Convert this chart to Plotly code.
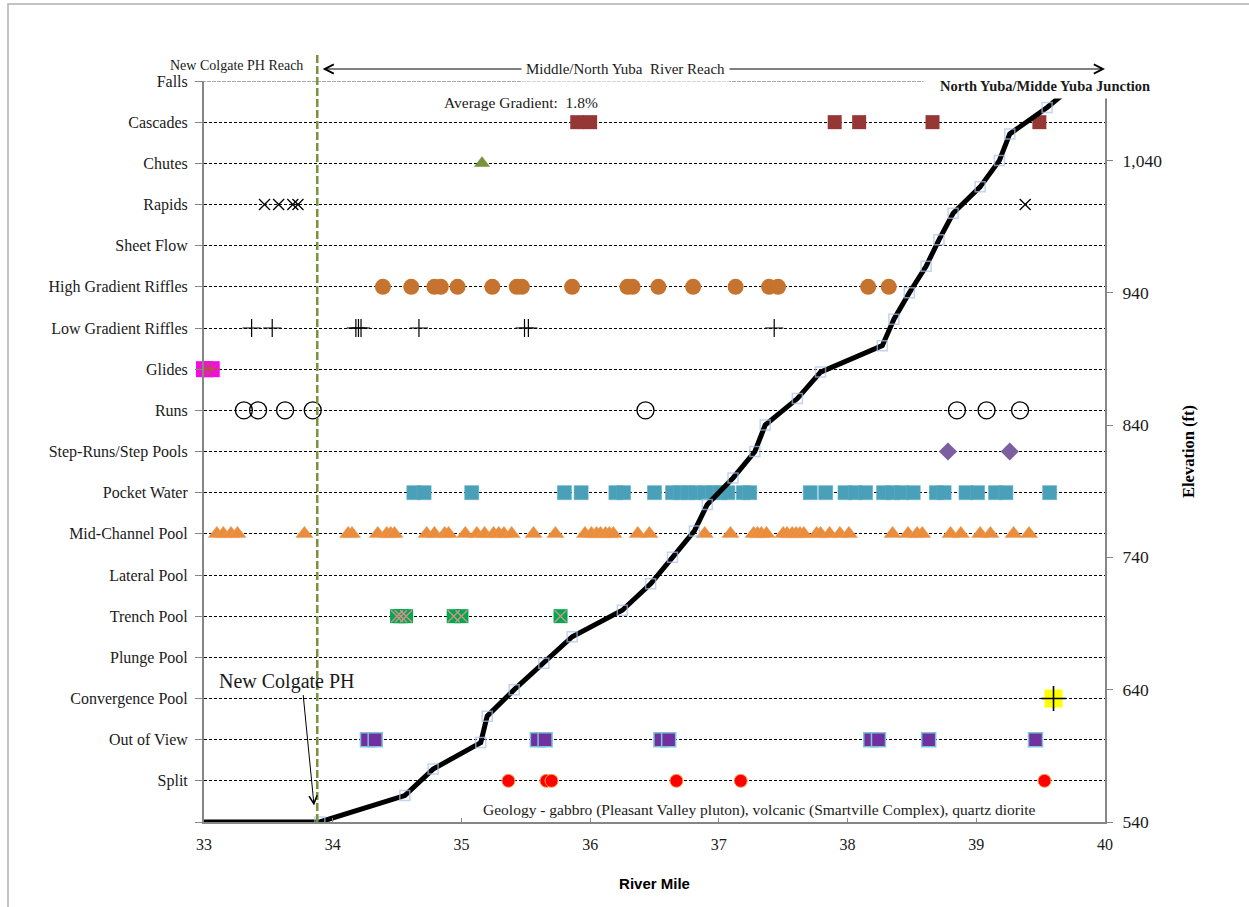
import plotly.graph_objects as go

# ---------------------------------------------------------------- data
# Habitat rows, bottom (1) to top (18)
habitat_rows = [
    "Split", "Out of View", "Convergence Pool", "Plunge Pool", "Trench Pool",
    "Lateral Pool", "Mid-Channel Pool", "Pocket Water", "Step-Runs/Step Pools",
    "Runs", "Glides", "Low Gradient Riffles", "High Gradient Riffles",
    "Sheet Flow", "Rapids", "Chutes", "Cascades", "Falls",
]

# River miles at which each habitat type was mapped
cascades_mi = [35.90, 36.00, 37.90, 38.09, 38.66, 39.49]
chutes_mi = [35.16]
rapids_mi = [33.47, 33.58, 33.69, 33.73, 39.38]
high_riffles_mi = [34.39, 34.61, 34.79, 34.84, 34.97, 35.24, 35.43, 35.47, 35.86,
                   36.29, 36.33, 36.53, 36.80, 37.13, 37.39, 37.46, 38.16, 38.32]
low_riffles_mi = [33.37, 33.53, 34.18, 34.20, 34.22, 34.67, 35.49, 35.52, 37.43]
glides_mi = [33.00, 33.06]
runs_mi = [33.31, 33.42, 33.63, 33.845, 36.43, 38.85, 39.08, 39.34]
step_pools_mi = [38.78, 39.26]
pocket_water_mi = [34.63, 34.71, 35.08, 35.80, 35.93, 36.20, 36.26, 36.50, 36.64,
                   36.70, 36.76, 36.82, 36.89, 36.95, 37.01, 37.07, 37.19, 37.24,
                   37.71, 37.83, 37.98, 38.06, 38.14, 38.28, 38.35, 38.42, 38.51,
                   38.69, 38.75, 38.92, 39.01, 39.15, 39.23, 39.57]
mid_channel_mi = [33.10, 33.15, 33.21, 33.26, 33.78, 34.12, 34.15, 34.35, 34.42,
                  34.45, 34.48, 34.73, 34.79, 34.87, 34.90, 35.03, 35.12, 35.18,
                  35.25, 35.29, 35.33, 35.39, 35.56, 35.73, 35.96, 36.01, 36.05,
                  36.08, 36.12, 36.15, 36.18, 36.37, 36.46, 36.89, 37.09, 37.27,
                  37.30, 37.33, 37.37, 37.50, 37.53, 37.57, 37.60, 37.63, 37.66,
                  37.76, 37.79, 37.86, 37.94, 38.01, 38.35, 38.47, 38.54, 38.58,
                  38.80, 38.88, 39.03, 39.11, 39.29, 39.41]
trench_pool_mi = [34.50, 34.53, 34.57, 34.94, 35.00, 35.77]
convergence_mi = [39.60]
out_of_view_mi = [34.27, 34.33, 35.59, 35.65, 36.55, 36.61, 38.18, 38.24, 38.63, 39.46]
split_mi = [35.365, 35.66, 35.70, 36.67, 37.17, 39.53]

# Longitudinal profile (river mile, elevation ft)
profile_mi = [33.00, 33.90, 34.56, 34.78, 35.15, 35.20, 35.41, 35.64, 35.86, 36.25,
              36.47, 36.64, 36.81, 36.91, 37.11, 37.28, 37.36, 37.61, 37.79, 38.27,
              38.36, 38.48, 38.61, 38.71, 38.82, 39.03, 39.18, 39.26, 39.55, 39.80]
profile_elev = [540, 540, 560, 580, 600, 620, 640, 660, 680, 700,
                720, 740, 760, 780, 800, 820, 840, 860, 880, 900,
                920, 940, 960, 980, 1000, 1020, 1040, 1060, 1080, 1100]

elev_ticks = [540, 640, 740, 840, 940, 1040]
mile_ticks = [33, 34, 35, 36, 37, 38, 39, 40]
reach_boundary_mi = 33.88

# ---------------------------------------------------------------- figure
SERIF = "Liberation Serif, Times New Roman, serif"
SANS = "Liberation Sans, Arial, sans-serif"
TEXT = "#1a1a1a"

fig = go.Figure()


def row_of(name):
    return habitat_rows.index(name) + 1


def add_habitat(name, miles, marker, clip=True):
    fig.add_trace(go.Scatter(
        x=miles, y=[row_of(name)] * len(miles), mode="markers", name=name,
        marker=marker, cliponaxis=clip, hoverinfo="x+name",
    ))


add_habitat("Cascades", cascades_mi,
            dict(symbol="square", size=14, color="#953735", line=dict(width=0)))
add_habitat("Chutes", chutes_mi,
            dict(symbol="triangle-up", size=14, color="#77933C", line=dict(width=0)))
add_habitat("Rapids", rapids_mi,
            dict(symbol="x-thin", size=11, color="black", line=dict(width=1.3, color="black")))
add_habitat("High Gradient Riffles", high_riffles_mi,
            dict(symbol="circle", size=16, color="#C5732F", line=dict(width=0)))
add_habitat("Low Gradient Riffles", low_riffles_mi,
            dict(symbol="cross-thin", size=13, color="black", line=dict(width=1.2, color="black")))
# glides: magenta square with a brown cross-hatch on top
add_habitat("Glides", glides_mi,
            dict(symbol="square", size=16, color="#FF00FF", line=dict(width=0)), clip=False)
add_habitat("Glides", glides_mi,
            dict(symbol="asterisk-open", size=14, color="#B4553E", line=dict(width=1.1, color="#B4553E")),
            clip=False)
add_habitat("Runs", runs_mi,
            dict(symbol="circle-open", size=17, color="black", line=dict(width=1.3, color="black")))
add_habitat("Step-Runs/Step Pools", step_pools_mi,
            dict(symbol="diamond", size=14, color="#7B5F9E", line=dict(width=0)))
add_habitat("Pocket Water", pocket_water_mi,
            dict(symbol="square", size=14, color="#4AA0B8", line=dict(width=0.6, color="#5AAEC4")))
add_habitat("Mid-Channel Pool", mid_channel_mi,
            dict(symbol="triangle-up", size=15, color="#E98C3C", line=dict(width=0.5, color="#F2A060")))
# trench pools: green square with a pink cross on top
add_habitat("Trench Pool", trench_pool_mi,
            dict(symbol="square", size=14, color="#00A84F", line=dict(width=0)))
add_habitat("Trench Pool", trench_pool_mi,
            dict(symbol="x-thin", size=12, color="#D9908C", line=dict(width=1.3, color="#D9908C")))
# convergence pool: yellow square with a black plus on top
add_habitat("Convergence Pool", convergence_mi,
            dict(symbol="square", size=18, color="#FFFF00", line=dict(width=0)))
add_habitat("Convergence Pool", convergence_mi,
            dict(symbol="cross-thin", size=18, color="black", line=dict(width=1.6, color="black")))
add_habitat("Out of View", out_of_view_mi,
            dict(symbol="square", size=14, color="#7030A0", line=dict(width=1.5, color="#7FC3D8")))
add_habitat("Split", split_mi,
            dict(symbol="circle", size=13, color="#FF0000", line=dict(width=1, color="#F7A24E")))

# Elevation profile on the secondary axis, drawn over the habitat markers
fig.add_trace(go.Scatter(
    x=profile_mi, y=profile_elev, yaxis="y2", mode="lines+markers", name="Elevation",
    line=dict(color="black", width=5),
    marker=dict(symbol="square-open", size=[0] + [10] * (len(profile_mi) - 1),
                color="#A9C1E6", line=dict(width=1.5)),
    hoverinfo="x+y",
))

# plot area: x 204..1105 px, y 81..822 px
PL, PR, PT, PB = 204, 1105, 81, 822
PW, PH = PR - PL, PB - PT


def px(xp):
    return (xp - PL) / PW


def py(yp):
    return (PB - yp) / PH


GRID = "#868686"

fig.update_layout(
    width=1249, height=907, autosize=False,
    margin=dict(l=PL, r=1249 - PR, t=PT, b=907 - PB, pad=0),
    paper_bgcolor="white", plot_bgcolor="white",
    showlegend=False,
    font=dict(family=SERIF, color="black"),
    xaxis=dict(
        range=[33, 40], tickvals=mile_ticks, showgrid=False, zeroline=False,
        showline=True, linecolor=GRID, linewidth=2,
        ticks="inside", ticklen=4, tickcolor=GRID,
        tickfont=dict(family=SERIF, size=16, color=TEXT),
        ticklabelstandoff=7,
        title=dict(text="<b>River Mile</b>", font=dict(family=SANS, size=15, color="black"),
                   standoff=26),
    ),
    yaxis=dict(
        range=[0, 18], tickvals=list(range(0, 19)), ticktext=[""] + habitat_rows,
        showgrid=True, gridcolor="black", gridwidth=1, griddash="3px,2px",
        zeroline=False, showline=True, linecolor=GRID, linewidth=2,
        ticks="outside", ticklen=7, tickcolor=GRID,
        tickfont=dict(family=SERIF, size=16, color=TEXT),
        ticklabelstandoff=4,
    ),
    yaxis2=dict(
        overlaying="y", side="right", range=[540, 1100], tickvals=elev_ticks,
        tickformat=",", showgrid=False, zeroline=False,
        showline=True, linecolor=GRID, linewidth=2,
        ticks="outside", ticklen=6, tickcolor=GRID,
        tickfont=dict(family=SERIF, size=17.5, color=TEXT),
        ticklabelstandoff=6,
        title=dict(text="<b>Elevation (ft)</b>", font=dict(family=SERIF, size=16.5, color="black"),
                   standoff=21),
    ),
)

shapes = [
    # outer chart frame
    dict(type="rect", xref="paper", yref="paper",
         x0=px(8), x1=px(1262), y0=py(920), y1=py(4),
         line=dict(color="#B0B0B0", width=1.5), fillcolor="rgba(0,0,0,0)", layer="below"),
    # top border line at the Falls row
    dict(type="line", xref="paper", yref="y", x0=px(197), x1=1, y0=18, y1=18,
         line=dict(color="#8C8C8C", width=1.5, dash="4px,1px"), layer="above"),
    # reach boundary
    dict(type="line", xref="x", yref="paper", x0=reach_boundary_mi, x1=reach_boundary_mi,
         y0=0, y1=py(52), line=dict(color="#77933C", width=2.5, dash="8px,3px"), layer="above"),
]
fig.update_layout(shapes=shapes)

annotations = [
    dict(text="<b>North Yuba/Midde Yuba Junction</b>", xref="paper", yref="paper",
         x=px(1045), y=py(86), xanchor="center", yanchor="middle", showarrow=False,
         width=240, height=22, bgcolor="white",
         font=dict(family=SERIF, size=14.5, color=TEXT)),
    # reach extent arrow
    dict(text="", xref="x", yref="paper", x=40, y=py(69), axref="x", ayref="pixel",
         ax=reach_boundary_mi + 0.03, ay=0, showarrow=True, arrowside="end+start",
         arrowhead=5, startarrowhead=5, arrowsize=1.8, startarrowsize=1.8,
         arrowwidth=1, arrowcolor="black", standoff=0, startstandoff=0),
    dict(text="Middle/North Yuba  River Reach", xref="paper", yref="paper",
         x=px(625), y=py(69), xanchor="center", yanchor="middle", showarrow=False,
         bgcolor="white", borderpad=4, font=dict(family=SERIF, size=15, color=TEXT)),
    dict(text="New Colgate PH Reach", xref="paper", yref="paper",
         x=px(236), y=py(65), xanchor="center", yanchor="middle", showarrow=False,
         font=dict(family=SERIF, size=14, color=TEXT)),
    dict(text="Average Gradient:  1.8%", xref="paper", yref="paper",
         x=px(521), y=py(103), xanchor="center", yanchor="middle", showarrow=False,
         font=dict(family=SERIF, size=15.5, color=TEXT)),
    dict(text="New Colgate PH", xref="paper", yref="paper",
         x=px(287), y=py(681), xanchor="center", yanchor="middle", showarrow=False,
         font=dict(family=SERIF, size=20, color=TEXT)),
    # pointer to the powerhouse location
    dict(text="", xref="x", yref="y", x=reach_boundary_mi - 0.025, y=0.4,
         ax=-11, ay=-112, showarrow=True, arrowhead=5, arrowsize=1.6,
         arrowwidth=1, arrowcolor="black", standoff=0),
    dict(text="Geology - gabbro (Pleasant Valley pluton), volcanic (Smartville Complex), quartz diorite",
         xref="paper", yref="paper", x=px(759), y=py(810), xanchor="center", yanchor="middle",
         showarrow=False, font=dict(family=SERIF, size=15.5, color=TEXT)),
]
fig.update_layout(annotations=annotations)

fig.write_html("out.html")
